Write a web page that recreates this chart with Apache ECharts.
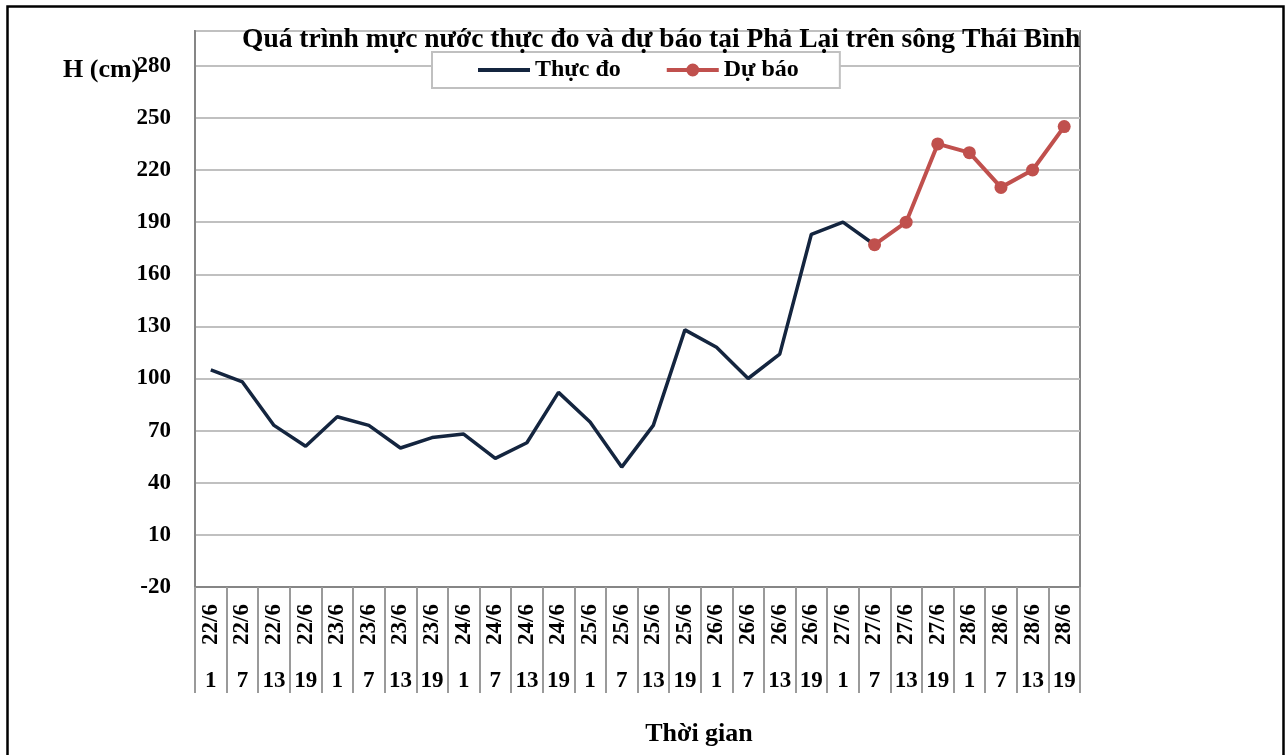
<!DOCTYPE html>
<html>
<head>
<meta charset="utf-8">
<script src="https://cdn.jsdelivr.net/npm/echarts@6/dist/echarts.min.js"></script>
<style>
html,body{margin:0;padding:0;background:#fff;}
#chart{width:1287px;height:755px;}
</style>
</head>
<body>
<div id="chart"></div>
<script>
// ---- data ----
var dates = ['22/6','22/6','22/6','22/6','23/6','23/6','23/6','23/6','24/6','24/6','24/6','24/6','25/6','25/6','25/6','25/6','26/6','26/6','26/6','26/6','27/6','27/6','27/6','27/6','28/6','28/6','28/6','28/6'];
var hours = ['1','7','13','19','1','7','13','19','1','7','13','19','1','7','13','19','1','7','13','19','1','7','13','19','1','7','13','19'];
var measured = [105,98,73,61,78,73,60,66,68,54,63,92,75,49,73,128,118,100,114,183,190,177,null,null,null,null,null,null];
var forecast = [null,null,null,null,null,null,null,null,null,null,null,null,null,null,null,null,null,null,null,null,null,177,190,235,230,210,220,245];
var yTicks = {min:-20, max:300, interval:30};
var titleText = 'Quá trình mực nước thực đo và dự báo tại Phả Lại trên sông Thái Bình';
var seriesNames = ['Thực đo','Dự báo'];
var yName = 'H (cm)';
var xName = 'Thời gian';

var FONT = '"Liberation Serif","Times New Roman",serif';
var C1 = '#14253f', C2 = '#c0504d';
var chart = echarts.init(document.getElementById('chart'), null, {renderer:'canvas'});
chart.setOption({
  backgroundColor:'#fff',
  animation:false,
  title:{
    text:titleText, left:237, top:21,
    textStyle:{fontFamily:FONT, fontWeight:'bold', fontSize:27.5, color:'#000'}
  },
  legend:{
    data:[
      {name:seriesNames[0], icon:'path://M0,5 L52,5 L52,9 L0,9 Z', itemStyle:{color:C1}},
      {name:seriesNames[1], icon:'path://M0,5 L52,5 L52,9 L0,9 Z M32.5,7 A6.5,6.5 0 1 1 19.5,7 A6.5,6.5 0 1 1 32.5,7 Z', itemStyle:{color:C2}}
    ],
    left:432, top:52,
    padding:[6,41,6,46], itemGap:46,
    itemWidth:52, itemHeight:14,
    backgroundColor:'#fff', borderColor:'#c0c0c0', borderWidth:2,
    textStyle:{fontFamily:FONT, fontWeight:'bold', fontSize:24, color:'#000'}
  },
  grid:{left:195, right:207, top:31, bottom:168, show:true, borderColor:'#868686', borderWidth:2},
  xAxis:[{
    type:'category', data:dates, boundaryGap:true, position:'bottom',
    axisLine:{show:true, onZero:false, lineStyle:{color:'#868686', width:2}},
    axisTick:{show:true, interval:0, length:106, lineStyle:{color:'#9a9a9a', width:2}},
    axisLabel:{interval:0, rotate:90, margin:17, fontFamily:FONT, fontWeight:'bold', fontSize:23, color:'#000'},
    splitLine:{show:false}
  },{
    type:'category', data:hours, boundaryGap:true, position:'bottom',
    axisLine:{show:false, onZero:false}, axisTick:{show:false}, splitLine:{show:false},
    axisLabel:{interval:0, margin:83, fontFamily:FONT, fontWeight:'bold', fontSize:23, color:'#000'}
  }],
  yAxis:{
    type:'value', min:yTicks.min, max:yTicks.max, interval:yTicks.interval,
    axisLine:{show:true, lineStyle:{color:'#868686', width:2}},
    axisTick:{show:false},
    axisLabel:{margin:24, showMaxLabel:false, fontFamily:FONT, fontWeight:'bold', fontSize:23, color:'#000'},
    splitLine:{show:true, lineStyle:{color:'#c0c0c0', width:2}}
  },
  series:[{
    name:seriesNames[0], type:'line', data:measured, symbol:'none', connectNulls:false,
    lineStyle:{color:C1, width:3.5}, itemStyle:{color:C1}, z:2
  },{
    name:seriesNames[1], type:'line', data:forecast, symbol:'circle', symbolSize:13, connectNulls:false,
    lineStyle:{color:C2, width:4}, itemStyle:{color:C2}, z:3
  }],
  graphic:[{
    type:'rect', left:5, top:4, shape:{x:0,y:0,width:1276,height:780},
    style:{fill:'none', stroke:'#000', lineWidth:2.5}, silent:true
  },{
    type:'text', x:63, y:70, z:10,
    style:{text:yName, fontFamily:FONT, fontWeight:'bold', fontSize:26, fill:'#000', textAlign:'left', textVerticalAlign:'middle'}
  },{
    type:'text', x:699, y:734, z:10,
    style:{text:xName, fontFamily:FONT, fontWeight:'bold', fontSize:26, fill:'#000', textAlign:'center', textVerticalAlign:'middle'}
  }]
});
</script>
</body>
</html>
